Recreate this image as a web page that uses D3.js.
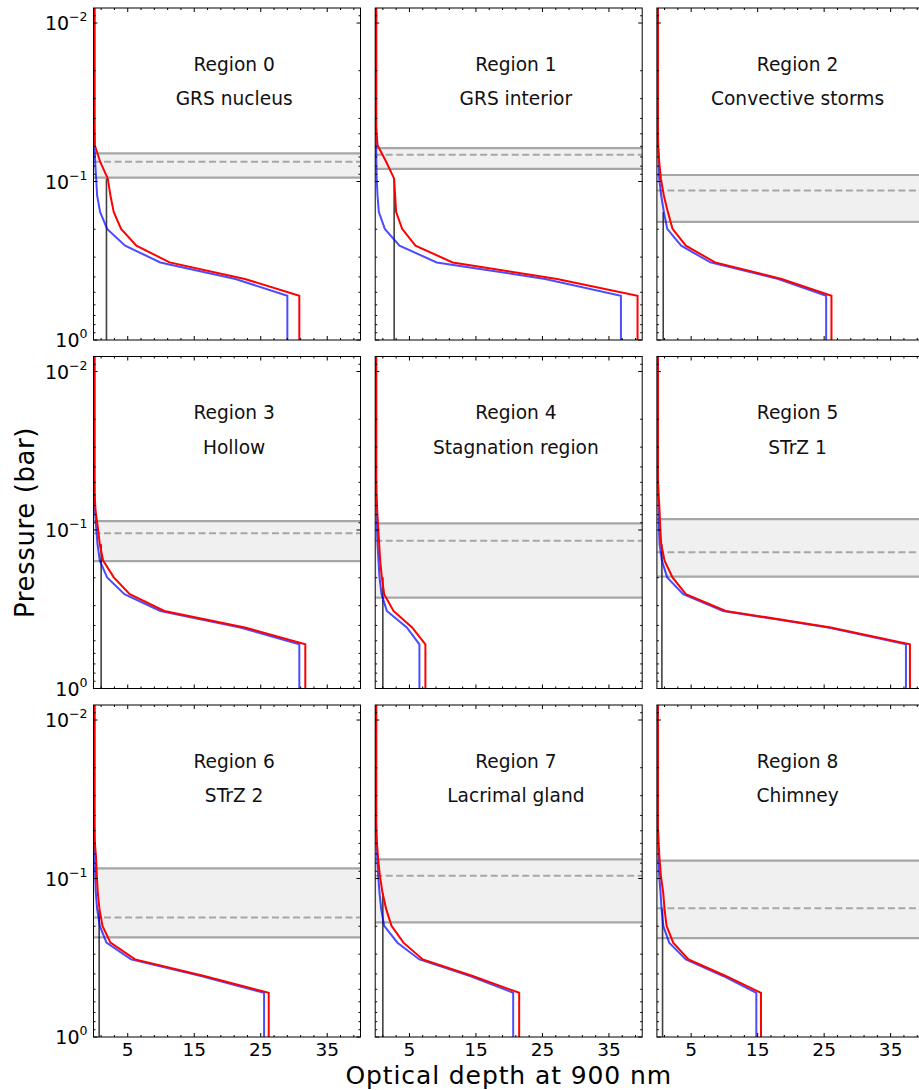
<!DOCTYPE html>
<html>
<head>
<meta charset="utf-8">
<script src="https://d3js.org/d3.v7.min.js"></script>
<style>
body { margin: 0; background: #fff; }
svg { display: block; font-family: "DejaVu Sans", sans-serif; }
</style>
</head>
<body>
<div id="chart"></div>
<script>
// pressure levels (bar) of the retrieved profiles
const pressureLevels = [0.008, 0.046, 0.059, 0.075, 0.096, 0.123, 0.156, 0.199, 0.254, 0.324, 0.412, 0.526, 1.0];

const regionNames = ["GRS nucleus", "GRS interior", "Convective storms",
                     "Hollow", "Stagnation region", "STrZ 1",
                     "STrZ 2", "Lacrimal gland", "Chimney"];

// cumulative optical depth at 900 nm, red profile
const redTau = [
    [0, 0, 0.05, 0.85, 2.0, 2.4, 2.9, 4.0, 6.3, 11.3, 22.6, 30.8, 30.8],
    [0, 0, 0.2, 1.5, 2.7, 2.85, 3.0, 3.9, 5.9, 11.5, 27.2, 39.3, 39.3],
    [0, 0, 0.05, 0.2, 0.45, 0.9, 1.5, 2.2, 4.2, 8.6, 18.6, 26.1, 26.1],
    [0, 0, 0.02, 0.15, 0.5, 0.8, 1.3, 2.9, 5.3, 10.5, 22.6, 31.7, 31.7],
    [0, 0, 0.05, 0.15, 0.3, 0.45, 0.6, 0.85, 1.2, 2.6, 5.4, 7.4, 7.4],
    [0, 0, 0.1, 0.25, 0.35, 0.5, 1.0, 2.2, 4.2, 10.2, 26.0, 37.9, 37.9],
    [0, 0, 0.05, 0.25, 0.35, 0.5, 0.75, 1.2, 2.4, 6.1, 16.5, 26.2, 26.2],
    [0, 0, 0.1, 0.3, 0.55, 0.95, 1.5, 2.3, 4.1, 7.0, 14.5, 21.5, 21.5],
    [0, 0, 0.1, 0.25, 0.45, 0.8, 1.0, 1.3, 2.3, 4.6, 10.2, 15.5, 15.5]
];

// cumulative optical depth at 900 nm, blue profile
const blueTau = [
    [0, 0, 0.02, 0.1, 0.25, 0.4, 0.85, 1.9, 4.6, 9.9, 21.2, 29.0, 29.0],
    [0, 0, 0, 0.02, 0.08, 0.2, 0.4, 1.3, 3.5, 9.1, 25.4, 36.8, 36.8],
    [0, 0, 0.02, 0.1, 0.2, 0.5, 0.9, 1.4, 3.5, 7.9, 18.1, 25.3, 25.3],
    [0, 0, 0, 0.05, 0.25, 0.45, 0.8, 1.9, 4.5, 9.9, 21.9, 30.8, 30.8],
    [0, 0, 0, 0.05, 0.1, 0.2, 0.35, 0.5, 0.8, 1.6, 4.6, 6.5, 6.5],
    [0, 0, 0.05, 0.1, 0.15, 0.25, 0.6, 1.4, 3.8, 9.8, 25.6, 37.3, 37.3],
    [0, 0, 0, 0.05, 0.1, 0.2, 0.4, 0.8, 1.8, 5.5, 16.0, 25.5, 25.5],
    [0, 0, 0.05, 0.15, 0.3, 0.5, 0.75, 1.2, 3.2, 6.5, 14.1, 20.6, 20.6],
    [0, 0, 0.05, 0.1, 0.2, 0.4, 0.55, 0.8, 1.7, 4.2, 9.8, 14.8, 14.8]
];

// black vertical line: optical depth and top pressure
const blackTau = [1.8, 2.7, 0.8, 1.0, 1.0, 0.6, 0.7, 1.0, 0.7];
const blackTop = [0.096, 0.096, 0.156, 0.123, 0.199, 0.123, 0.156, 0.123, 0.156];

// grey cloud band: top, dashed middle, base (bar)
const bandTop    = [0.0664, 0.0615, 0.091, 0.0878, 0.0907, 0.0853, 0.0862, 0.0757, 0.0772];
const bandMid    = [0.075, 0.0678, 0.114, 0.105, 0.117, 0.138, 0.176, 0.096, 0.154];
const bandBottom = [0.0946, 0.0832, 0.18, 0.157, 0.267, 0.197, 0.235, 0.189, 0.238];

const xTickValues = [5, 15, 25, 35];
const yTickValues = [0.01, 0.1, 1];
const yTickExponents = ["\u22122", "\u22121", "0"];

const width = 919;
const height = 1090;
const panelW = 267;
const panelH = 332;
const left0 = 93.5;
const top0 = 8;
const colStep = 281.7;
const rowStep = 348.5;

const svg = d3.select("#chart").append("svg")
    .attr("width", width)
    .attr("height", height);

const xScale = d3.scaleLinear().domain([-0.15, 40]).range([0, panelW]);
const yScale = d3.scaleLog().domain([0.00804, 1]).range([0, panelH]);

const line = d3.line()
    .x(function(d) { return xScale(d[0]); })
    .y(function(d) { return yScale(d[1]); });

const xMinor = d3.range(1, 40, 2).filter(function(v) { return xTickValues.indexOf(v) < 0; });
const yAll = yScale.ticks();
const isMajorY = function(v) { return Math.abs(Math.log10(v) - Math.round(Math.log10(v))) < 1e-6; };

regionNames.forEach(function(name, i) {
    const row = Math.floor(i / 3);
    const col = i % 3;
    const g = svg.append("g")
        .attr("transform", "translate(" + (left0 + col * colStep) + "," + (top0 + row * rowStep) + ")");

    g.append("clipPath").attr("id", "clip" + i)
        .append("rect").attr("width", panelW).attr("height", panelH);

    const plot = g.append("g").attr("clip-path", "url(#clip" + i + ")");

    // cloud band
    plot.append("rect")
        .attr("x", 0)
        .attr("width", panelW)
        .attr("y", yScale(bandTop[i]))
        .attr("height", yScale(bandBottom[i]) - yScale(bandTop[i]))
        .attr("fill", "#f0f0f0");

    [bandTop[i], bandBottom[i]].forEach(function(p) {
        plot.append("line")
            .attr("x1", 0).attr("x2", panelW)
            .attr("y1", yScale(p)).attr("y2", yScale(p))
            .attr("stroke", "#a6a6a6")
            .attr("stroke-width", 2.2);
    });
    plot.append("line")
        .attr("x1", 0).attr("x2", panelW)
        .attr("y1", yScale(bandMid[i])).attr("y2", yScale(bandMid[i]))
        .attr("stroke", "#a6a6a6")
        .attr("stroke-width", 2)
        .attr("stroke-dasharray", "7,3.5");

    // black line
    plot.append("path")
        .attr("d", line([[blackTau[i], blackTop[i]], [blackTau[i], 1]]))
        .attr("fill", "none")
        .attr("stroke", "#000")
        .attr("stroke-opacity", 0.75)
        .attr("stroke-width", 1.6);

    plot.append("path")
        .attr("d", line(pressureLevels.map(function(p, k) { return [blueTau[i][k], p]; })))
        .attr("fill", "none")
        .attr("stroke", "#0000ff")
        .attr("stroke-opacity", 0.7)
        .attr("stroke-width", 2);

    plot.append("path")
        .attr("d", line(pressureLevels.map(function(p, k) { return [redTau[i][k], p]; })))
        .attr("fill", "none")
        .attr("stroke", "#ff0000")
        .attr("stroke-width", 2);

    // ticks on all four sides, pointing in
    const ticks = g.append("g").attr("stroke", "#000").attr("stroke-width", 1);
    xTickValues.concat(xMinor).forEach(function(v) {
        const len = xTickValues.indexOf(v) >= 0 ? 4 : 2;
        const x = xScale(v);
        ticks.append("line").attr("x1", x).attr("x2", x).attr("y1", panelH).attr("y2", panelH - len);
        ticks.append("line").attr("x1", x).attr("x2", x).attr("y1", 0).attr("y2", len);
    });
    yAll.forEach(function(v) {
        const len = isMajorY(v) ? 4 : 2;
        const y = yScale(v);
        ticks.append("line").attr("x1", 0).attr("x2", len).attr("y1", y).attr("y2", y);
        ticks.append("line").attr("x1", panelW).attr("x2", panelW - len).attr("y1", y).attr("y2", y);
    });

    g.append("rect")
        .attr("width", panelW)
        .attr("height", panelH)
        .attr("fill", "none")
        .attr("stroke", "#000")
        .attr("stroke-width", 1);

    if (col === 0) {
        yTickValues.forEach(function(v, k) {
            const t = g.append("text")
                .attr("x", -6)
                .attr("y", yScale(v) + 7)
                .attr("text-anchor", "end")
                .attr("font-size", 19)
                .attr("fill", "#000");
            t.append("tspan").text("10");
            t.append("tspan")
                .attr("dy", -9)
                .attr("font-size", 12.5)
                .text(yTickExponents[k]);
        });
    }
    if (row === 2) {
        xTickValues.forEach(function(v) {
            g.append("text")
                .attr("x", xScale(v))
                .attr("y", panelH + 19)
                .attr("text-anchor", "middle")
                .attr("font-size", 18.5)
                .attr("fill", "#000")
                .text(v);
        });
    }

    g.append("text")
        .attr("x", xScale(21))
        .attr("y", yScale(0.02))
        .attr("text-anchor", "middle")
        .attr("font-size", 18.6)
        .attr("fill", "#111")
        .text("Region " + i);
    g.append("text")
        .attr("x", xScale(21))
        .attr("y", yScale(0.033))
        .attr("text-anchor", "middle")
        .attr("font-size", 18.6)
        .attr("fill", "#111")
        .text(name);
});

svg.append("text")
    .attr("transform", "translate(34," + (top0 + (2 * rowStep + panelH) / 2) + ") rotate(-90)")
    .attr("text-anchor", "middle")
    .attr("font-size", 26)
    .attr("letter-spacing", 0.6)
    .attr("fill", "#000")
    .text("Pressure (bar)");

svg.append("text")
    .attr("x", left0 + (2 * colStep + panelW) / 2)
    .attr("y", 1084)
    .attr("text-anchor", "middle")
    .attr("font-size", 25)
    .attr("letter-spacing", 0.9)
    .attr("fill", "#000")
    .text("Optical depth at 900 nm");
</script>
</body>
</html>
